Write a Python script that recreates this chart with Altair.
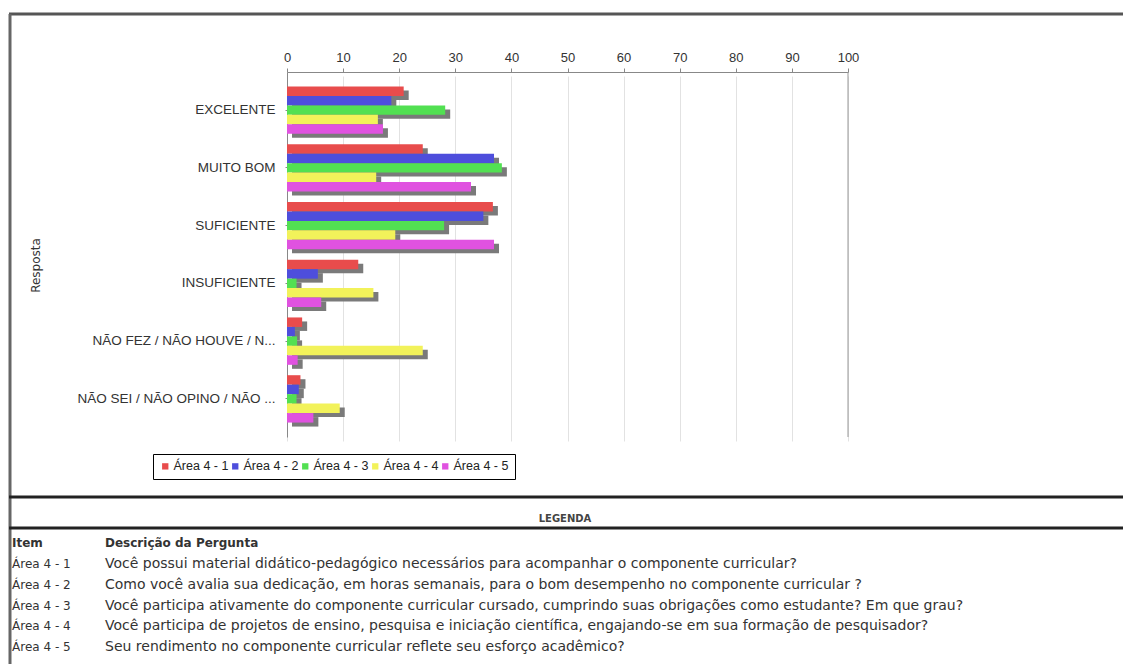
import altair as alt
import pandas as pd

categories = ["EXCELENTE", "MUITO BOM", "SUFICIENTE", "INSUFICIENTE",
              "NÃO FEZ / NÃO HOUVE / N...", "NÃO SEI / NÃO OPINO / NÃO ..."]
series = ["Área 4 - 1", "Área 4 - 2", "Área 4 - 3", "Área 4 - 4", "Área 4 - 5"]
area_4_1 = [20.8, 24.2, 36.7, 12.7, 2.7, 2.4]
area_4_2 = [18.6, 36.9, 35.0, 5.5, 1.4, 2.1]
area_4_3 = [28.2, 38.3, 28.0, 1.7, 1.8, 1.7]
area_4_4 = [16.2, 15.9, 19.3, 15.4, 24.2, 9.4]
area_4_5 = [17.1, 32.8, 36.9, 6.1, 1.9, 4.7]
colors = ["#E84C4C", "#4E4EDC", "#52E052", "#F2F25A", "#E052E0"]
ticks = [0, 10, 20, 30, 40, 50, 60, 70, 80, 90, 100]
descricoes = [
    "Você possui material didático-pedagógico necessários para acompanhar o componente curricular?",
    "Como você avalia sua dedicação, em horas semanais, para o bom desempenho no componente curricular ?",
    "Você participa ativamente do componente curricular cursado, cumprindo suas obrigações como estudante? Em que grau?",
    "Você participa de projetos de ensino, pesquisa e iniciação científica, engajando-se em sua formação de pesquisador?",
    "Seu rendimento no componente curricular reflete seu esforço acadêmico?",
]

values = [area_4_1, area_4_2, area_4_3, area_4_4, area_4_5]
rows = []
for s, vals in zip(series, values):
    for c, v in zip(categories, vals):
        rows.append({"resposta": c, "item": s, "valor": v})
df = pd.DataFrame(rows)
df_tab = pd.DataFrame({"item": series, "desc": descricoes, "row": list(range(len(series)))})
one = pd.DataFrame({"a": [0]})

SANS = "DejaVu Sans, Verdana, sans-serif"
ARIAL = "Liberation Sans, Arial, sans-serif"

x_enc = alt.X("valor:Q", title=None,
              scale=alt.Scale(domain=[0, 100], nice=False),
              axis=alt.Axis(orient="top", values=ticks, grid=True, gridColor="#e2e2e2",
                            domainColor="#888", tickColor="#888", tickSize=4,
                            labelFont=ARIAL, labelFontSize=13, labelColor="#333",
                            labelPadding=4, labelFlush=False))
band_scale = dict(paddingInner=0.18, paddingOuter=0.25)
y_enc = alt.Y("resposta:N", sort=categories, title="Resposta",
              scale=alt.Scale(**band_scale),
              axis=alt.Axis(domainColor="#888", tickColor="#888", tickSize=2,
                            labelFont=ARIAL, labelFontSize=13.5, labelColor="#333",
                            labelPadding=10, labelLimit=300,
                            titleFont=SANS, titleFontSize=12, titleFontWeight="normal",
                            titleColor="#333", titleX=-252, titleY=193,
                            titleAngle=270, titleAlign="center", titleBaseline="middle"))
y_shadow = alt.Y("resposta:N", sort=categories, axis=None,
                 scale=alt.Scale(range=[4, 369], **band_scale))
yoff = alt.YOffset("item:N", sort=series, scale=alt.Scale(paddingInner=0, paddingOuter=0))

shadow = alt.Chart(df).mark_bar(color="#7a7a7a", xOffset=5).encode(
    x=x_enc, y=y_shadow, yOffset=yoff)
bars = alt.Chart(df).mark_bar().encode(
    x=x_enc, y=y_enc, yOffset=yoff,
    color=alt.Color("item:N", sort=series,
                    scale=alt.Scale(domain=series, range=colors),
                    legend=alt.Legend(orient="none", legendX=-134, legendY=382,
                                      direction="horizontal", columns=5, title=None,
                                      symbolType="square", symbolSize=40,
                                      symbolStrokeWidth=0, labelFont=ARIAL,
                                      labelFontSize=12.5, labelColor="#222",
                                      labelOffset=2,
                                      strokeColor="#000", fillColor="#fff",
                                      padding=6, columnPadding=0)))
right_edge = alt.Chart(one).mark_rule(color="#999").encode(x=alt.datum(100))

def hline(y, width=3, color="#222"):
    return alt.Chart(one).mark_rule(color=color, strokeWidth=width).encode(
        x=alt.value(-278), x2=alt.value(850), y=alt.value(y))

top_border = hline(-58, 3, "#555")
left_border = alt.Chart(one).mark_rule(color="#666", strokeWidth=3).encode(
    x=alt.value(-277), y=alt.value(-58), y2=alt.value(600))
line1 = hline(425, 3, "#222")
line2 = hline(456, 3, "#222")

legenda = alt.Chart(one).mark_text(font=SANS, fontSize=10, fontWeight="bold",
                                   color="#444", align="center", baseline="middle").encode(
    x=alt.value(278), y=alt.value(447), text=alt.value("LEGENDA"))
head_item = alt.Chart(one).mark_text(font=SANS, fontSize=12, fontWeight="bold",
                                     color="#333", align="left", baseline="middle").encode(
    x=alt.value(-275), y=alt.value(471), text=alt.value("Item"))
head_desc = alt.Chart(one).mark_text(font=SANS, fontSize=12, fontWeight="bold",
                                     color="#333", align="left", baseline="middle").encode(
    x=alt.value(-182), y=alt.value(471), text=alt.value("Descrição da Pergunta"))

row_y = alt.Y("row:Q", scale=alt.Scale(domain=[0, 4], range=[492, 575]), axis=None)
tab_item = alt.Chart(df_tab).mark_text(font=SANS, fontSize=12, color="#333",
                                       align="left", baseline="middle").encode(
    x=alt.value(-275), y=row_y, text="item:N")
tab_desc = alt.Chart(df_tab).mark_text(font=SANS, fontSize=14, color="#333",
                                       align="left", baseline="middle").encode(
    x=alt.value(-182), y=row_y, text="desc:N")

chart = alt.layer(
    shadow, bars, right_edge, top_border, left_border, line1, line2,
    legenda, head_item, head_desc, tab_item, tab_desc
).resolve_scale(y="independent").properties(
    width=561, height=365,
    padding={"left": 279, "top": 64, "right": 275, "bottom": 227},
    autosize=alt.AutoSizeParams(type="none"),
    background="white",
).configure_view(stroke=None)

chart.save("out.html", embed_options={"renderer": "svg", "actions": False})
